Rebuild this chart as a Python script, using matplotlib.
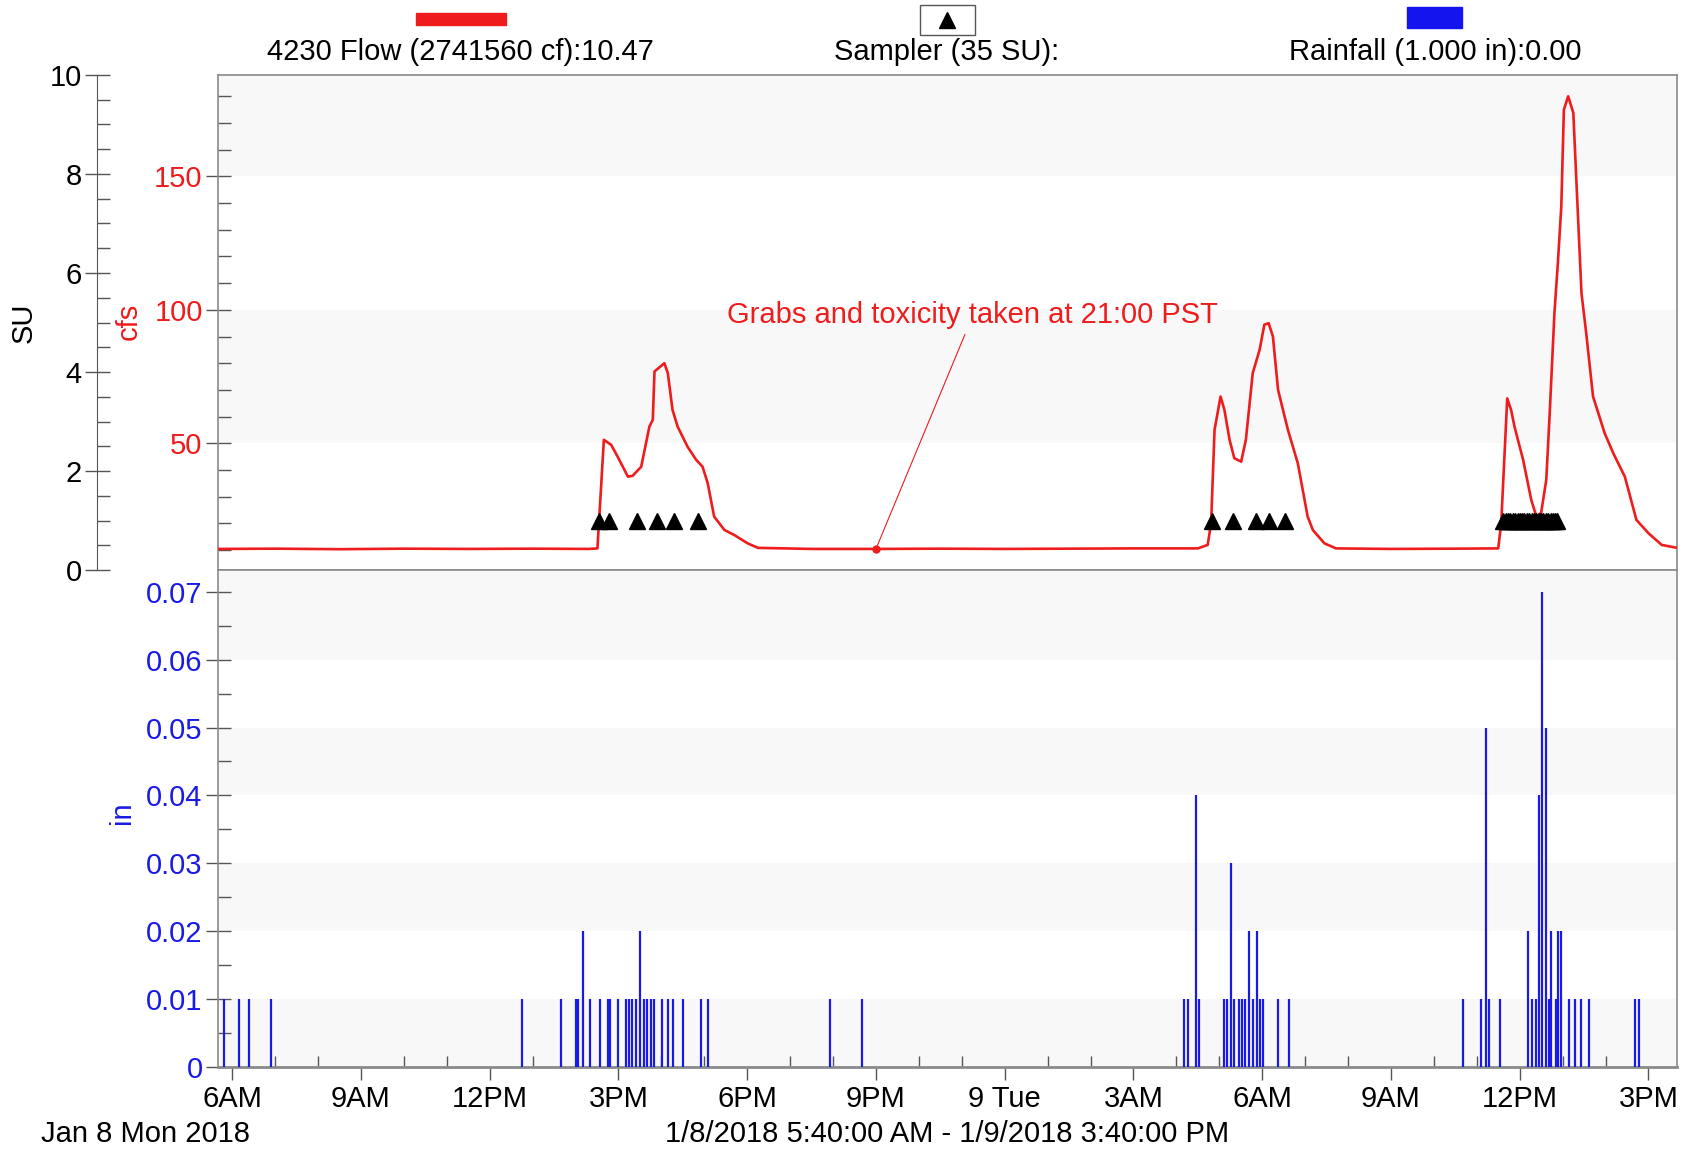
import matplotlib
matplotlib.use("Agg")
import matplotlib.pyplot as plt
from matplotlib.patches import Rectangle
from matplotlib.lines import Line2D
from matplotlib.ticker import MultipleLocator, FixedLocator

plt.rcParams["font.family"] = ["Liberation Sans", "DejaVu Sans"]
plt.rcParams["font.size"] = 21

# hours since midnight Jan 8 2018
flow_hours = [5.67, 7.0, 8.5, 10.0, 11.5, 13.0, 14.3, 14.51, 14.66, 14.83, 14.98, 15.22, 15.33,
              15.53, 15.72, 15.80, 15.84, 16.07, 16.15, 16.26, 16.38, 16.61, 16.81, 16.96,
              17.08, 17.23, 17.47, 17.70, 18.01, 18.25, 19.5, 21.0, 22.5, 24.0, 25.5, 27.0,
              28.5, 28.73, 28.81, 28.89, 29.03, 29.12, 29.24, 29.35, 29.51, 29.62, 29.78,
              29.94, 30.05, 30.15, 30.25, 30.37, 30.60, 30.83, 31.06, 31.18, 31.45, 31.72,
              33.0, 34.5, 35.50, 35.57, 35.71, 35.80, 35.88, 36.08, 36.27, 36.39, 36.50,
              36.62, 36.70, 36.81, 36.89, 36.97, 37.03, 37.13, 37.25, 37.32, 37.44, 37.55,
              37.71, 37.98, 38.18, 38.45, 38.72, 39.00, 39.31, 39.67]
flow_cfs = [10.4, 10.5, 10.3, 10.5, 10.4, 10.5, 10.4, 10.6, 51.3, 49.4, 45.0, 37.5, 37.8,
            41.2, 56.2, 58.8, 76.9, 80.0, 76.3, 62.5, 56.2, 48.7, 43.8, 41.2,
            35.0, 22.5, 17.5, 15.6, 12.5, 10.8, 10.4, 10.4, 10.5, 10.4, 10.5, 10.6,
            10.6, 11.9, 20.1, 55.0, 67.5, 62.5, 51.3, 44.4, 43.1, 51.3, 76.3,
            85.0, 94.4, 95.0, 90.0, 70.0, 55.0, 42.5, 22.5, 17.5, 12.5, 10.6,
            10.4, 10.5, 10.6, 20.0, 66.8, 62.5, 56.2, 43.8, 28.8, 22.5, 23.9,
            36.3, 61.3, 98.8, 117.5, 138.7, 175.0, 180.0, 173.8, 148.8, 106.3, 91.3,
            67.5, 53.8, 46.3, 37.5, 21.3, 16.3, 11.9, 10.8]

grab_hour = 21.0
grab_cfs = 10.4

sampler_hours = [14.55, 14.78, 15.43, 15.90, 16.30, 16.85,
                 28.83, 29.32, 29.86, 30.15, 30.54,
                 35.62, 35.67, 35.73, 35.78, 35.84, 35.89, 35.95, 36.00, 36.06, 36.11,
                 36.17, 36.22, 36.28, 36.33, 36.39, 36.44, 36.50, 36.55, 36.61, 36.66,
                 36.72, 36.77, 36.83, 36.88]
sampler_su = [1.0] * len(sampler_hours)

rain_hours = [5.80, 6.15, 6.40, 6.90, 12.75, 13.66, 14.01, 14.06, 14.17, 14.34, 14.58,
              14.75, 14.81, 15.00, 15.17, 15.24, 15.31, 15.41, 15.50, 15.59, 15.66, 15.76,
              15.83, 16.01, 16.16, 16.26, 16.51, 16.92, 17.09, 19.93, 20.67,
              28.17, 28.27, 28.45, 28.52, 29.10, 29.18, 29.28, 29.35, 29.45, 29.53, 29.60,
              29.70, 29.78, 29.87, 29.95, 30.03, 30.37, 30.62,
              34.68, 35.11, 35.21, 35.28, 35.54, 36.19, 36.29, 36.37, 36.44, 36.52, 36.62,
              36.69, 36.74, 36.84, 36.89, 36.96, 37.14, 37.28, 37.44, 37.61, 38.69, 38.79]
rain_in = [0.01, 0.01, 0.01, 0.01, 0.01, 0.01, 0.01, 0.01, 0.02, 0.01, 0.01,
           0.01, 0.01, 0.01, 0.01, 0.01, 0.01, 0.01, 0.02, 0.01, 0.01, 0.01,
           0.01, 0.01, 0.01, 0.01, 0.01, 0.01, 0.01, 0.01, 0.01,
           0.01, 0.01, 0.04, 0.01, 0.01, 0.01, 0.03, 0.01, 0.01, 0.01, 0.01,
           0.02, 0.01, 0.02, 0.01, 0.01, 0.01, 0.01,
           0.01, 0.01, 0.05, 0.01, 0.01, 0.02, 0.01, 0.01, 0.04, 0.07, 0.05,
           0.01, 0.02, 0.01, 0.02, 0.02, 0.01, 0.01, 0.01, 0.01, 0.01, 0.01]

tick_hours = [6, 9, 12, 15, 18, 21, 24, 27, 30, 33, 36, 39]
tick_labels = ["6AM", "9AM", "12PM", "3PM", "6PM", "9PM", "9 Tue", "3AM", "6AM", "9AM", "12PM", "3PM"]
cfs_ticks = [50, 100, 150]
su_ticks = [0, 2, 4, 6, 8, 10]
rain_ticks = [0, 0.01, 0.02, 0.03, 0.04, 0.05, 0.06, 0.07]
rain_tick_labels = ["0", "0.01", "0.02", "0.03", "0.04", "0.05", "0.06", "0.07"]

RED = "#ee1c1c"
BLUE = "#1a1ae6"
FRAME = "#8a8a8a"
BAND = "#f8f8f8"

fig = plt.figure(figsize=(16.88, 11.52), dpi=100)
ax_top = fig.add_axes([0.1291, 0.5052, 0.8644, 0.4297])
ax_bot = fig.add_axes([0.1291, 0.0738, 0.8644, 0.4314], sharex=ax_top)
ax_su = ax_top.twinx()

ax_top.set_xlim(5 + 40 / 60, 24 + 15 + 40 / 60)
ax_top.set_ylim(2.5, 188)
ax_su.set_ylim(0, 10)
ax_bot.set_ylim(0, 0.0732)

# faint background bands
ax_top.axhspan(50, 100, color=BAND, zorder=0, lw=0)
ax_top.axhspan(150, 190, color=BAND, zorder=0, lw=0)
for lo in [0, 0.02, 0.04, 0.06]:
    ax_bot.axhspan(lo, lo + 0.01 if lo < 0.06 else 0.08, color=BAND, zorder=0, lw=0)

# flow line + grab marker
ax_top.plot(flow_hours, flow_cfs, color=RED, lw=1.9, zorder=3)
ax_top.plot([grab_hour], [grab_cfs], "o", color=RED, ms=5, zorder=4)
ax_top.annotate("Grabs and toxicity taken at 21:00 PST", xy=(grab_hour, grab_cfs),
                xytext=(23.26, 98), ha="center", va="center", color=RED, fontsize=21,
                arrowprops=dict(arrowstyle="-", color=RED, lw=0.8, shrinkB=0))

# sampler triangles on SU axis
ax_su.plot(sampler_hours, sampler_su, "^", color="black", ms=11, ls="none", zorder=5)

# rainfall
ax_bot.vlines(rain_hours, 0, rain_in, color=BLUE, lw=1.6, zorder=3)

# spines
for ax in (ax_top, ax_bot):
    for s in ax.spines.values():
        s.set_color(FRAME)
        s.set_linewidth(1.2)
ax_bot.spines["bottom"].set_linewidth(2)
for name in ("top", "right", "bottom"):
    ax_su.spines[name].set_visible(False)
ax_su.spines["left"].set_visible(True)
ax_su.spines["left"].set_position(("axes", -0.0829))
ax_su.spines["left"].set_color("#555555")
ax_su.yaxis.set_ticks_position("left")
ax_su.yaxis.set_label_position("left")
ax_su.patch.set_visible(False)

# y ticks
ax_top.yaxis.set_major_locator(FixedLocator(cfs_ticks))
ax_top.yaxis.set_minor_locator(MultipleLocator(10))
ax_top.tick_params(axis="y", which="major", direction="inout", length=18, width=1,
                   color="#555555", labelcolor=RED, labelsize=21, pad=2)
ax_top.tick_params(axis="y", which="minor", direction="in", length=9, width=1, color="#555555")

ax_su.yaxis.set_major_locator(FixedLocator(su_ticks))
ax_su.yaxis.set_minor_locator(MultipleLocator(0.5))
ax_su.tick_params(axis="y", which="major", direction="inout", length=18, width=1,
                  color="#555555", labelcolor="black", labelsize=21, pad=2)
ax_su.tick_params(axis="y", which="minor", direction="in", length=9, width=1, color="#555555")

ax_bot.yaxis.set_major_locator(FixedLocator(rain_ticks))
ax_bot.set_yticklabels(rain_tick_labels)
ax_bot.yaxis.set_minor_locator(MultipleLocator(0.005))
ax_bot.tick_params(axis="y", which="major", direction="inout", length=18, width=1,
                   color="#555555", labelcolor=BLUE, labelsize=21, pad=2)
ax_bot.tick_params(axis="y", which="minor", direction="in", length=9, width=1, color="#555555")

# x ticks
ax_top.tick_params(axis="x", which="both", bottom=False, labelbottom=False)
ax_bot.xaxis.set_major_locator(FixedLocator(tick_hours))
ax_bot.set_xticklabels(tick_labels)
ax_bot.xaxis.set_minor_locator(MultipleLocator(1))
ax_bot.tick_params(axis="x", which="major", direction="out", length=9, width=1,
                   color="#555555", labelsize=21, pad=4)
ax_bot.tick_params(axis="x", which="minor", direction="in", length=8, width=1, color="#555555")

# axis labels
fig.text(24 / 1688, 1 - 323 / 1152, "SU", rotation=90, ha="center", va="center", fontsize=21)
fig.text(129 / 1688, 1 - 321 / 1152, "cfs", rotation=90, ha="center", va="center",
         fontsize=21, color=RED)
fig.text(122 / 1688, 1 - 813 / 1152, "in", rotation=90, ha="center", va="center",
         fontsize=21, color=BLUE)

# legend header
fig.add_artist(Rectangle((416 / 1688, 1 - 25 / 1152), 90 / 1688, 12 / 1152,
                         transform=fig.transFigure, color=RED))
fig.text(460 / 1688, 1 - 52 / 1152, "4230 Flow (2741560 cf):10.47", ha="center", va="center")
fig.add_artist(Rectangle((920 / 1688, 1 - 35 / 1152), 55 / 1688, 30 / 1152,
                         transform=fig.transFigure, facecolor="white", edgecolor="#555555", lw=1))
fig.add_artist(Line2D([947.5 / 1688], [1 - 20 / 1152], marker="^", color="black", ms=11,
                      transform=fig.transFigure))
fig.text(947 / 1688, 1 - 52 / 1152, "Sampler (35 SU):", ha="center", va="center")
fig.add_artist(Rectangle((1407 / 1688, 1 - 28 / 1152), 55 / 1688, 21 / 1152,
                         transform=fig.transFigure, color="#1414ee"))
fig.text(1435 / 1688, 1 - 52 / 1152, "Rainfall (1.000 in):0.00", ha="center", va="center")

# footer
fig.text(41 / 1688, 1 - 1134 / 1152, "Jan 8 Mon 2018", ha="left", va="center")
fig.text(947 / 1688, 1 - 1134 / 1152, "1/8/2018 5:40:00 AM - 1/9/2018 3:40:00 PM",
         ha="center", va="center")

fig.savefig("out.png", dpi=100)
